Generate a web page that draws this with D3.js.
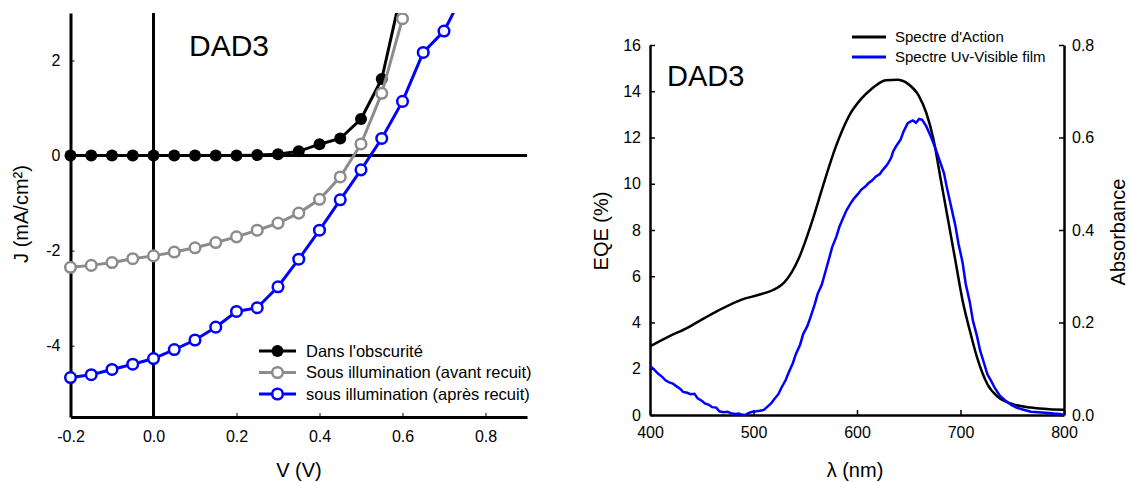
<!DOCTYPE html>
<html><head><meta charset="utf-8">
<script src="https://cdn.jsdelivr.net/npm/d3@7"></script>
<style>body{margin:0;background:#fff}svg{display:block;font-family:"Liberation Sans",Arial,sans-serif}</style>
</head><body><svg id="c" width="1131" height="482"></svg>
<script>
// ---------- Left panel data: J-V curves ----------
const voltage = [-0.2,-0.15,-0.1,-0.05,0.0,0.05,0.1,0.15,0.2,0.25,0.3,0.35,0.4,0.45,0.5,0.55,0.6,0.65,0.7,0.75];
const jDark   = [0,0,0,0,0,0,0,0,0,0.01,0.03,0.09,0.24,0.36,0.77,1.61,3.55];
const jBefore = [-2.35,-2.31,-2.25,-2.17,-2.11,-2.03,-1.94,-1.83,-1.71,-1.57,-1.42,-1.21,-0.92,-0.45,0.245,1.31,2.88];
const jAfter  = [-4.67,-4.61,-4.50,-4.39,-4.27,-4.08,-3.88,-3.61,-3.28,-3.20,-2.76,-2.18,-1.57,-0.93,-0.30,0.36,1.14,2.17,2.62,3.47];
const jvLabels = ["Dans l'obscurité","Sous illumination (avant recuit)","sous illumination (après recuit)"];
const xTicksJV = [-0.2,0.0,0.2,0.4,0.6,0.8];
const yTicksJV = [-4,-2,0,2];

// ---------- Right panel data: spectra ----------
const eqeWl  = [400,418,436,453,471,488,506,523,530,537,544,551,558,565,572,579,586,593,604,614,628,639,649,660,667,674,681,688,695,702,709,716,726,737,751,768,786,800];
const eqeVal = [2.97,3.39,3.77,4.2,4.63,4.98,5.21,5.5,5.75,6.18,6.8,7.63,8.57,9.59,10.6,11.54,12.34,12.99,13.67,14.1,14.48,14.5,14.33,13.78,13.06,11.9,10.16,8.43,6.69,4.95,3.65,2.49,1.33,0.75,0.46,0.32,0.25,0.23];
const absWl  = [400,404,408,412,415,418,422,425,429,432,436,439,443,446,450,453,457,460,464,467,471,475,478,482,486,488,492,495,499,503,506,510,513,517,520,524,527,531,534,538,541,545,548,552,555,559,562,566,569,573,576,580,583,587,590,594,597,601,604,608,611,615,618,622,625,628,630,633,635,638,642,645,649,652,654,657,660,663,667,671,675,679,684,687,691,695,698,702,705,709,712,716,719,723,726,730,733,738,744,749,754,760,768,775,782,790,796,800];
const absVal = [0.106,0.098,0.089,0.082,0.075,0.071,0.068,0.063,0.057,0.050,0.048,0.045,0.046,0.036,0.031,0.025,0.022,0.017,0.016,0.008,0.006,0.007,0.004,0.002,0.003,0.001,0.0,0.004,0.007,0.008,0.009,0.011,0.017,0.025,0.034,0.045,0.059,0.075,0.092,0.112,0.132,0.152,0.175,0.192,0.211,0.238,0.262,0.282,0.306,0.338,0.363,0.385,0.407,0.428,0.443,0.458,0.468,0.478,0.487,0.494,0.501,0.508,0.515,0.521,0.530,0.538,0.544,0.556,0.570,0.582,0.595,0.613,0.631,0.635,0.637,0.632,0.640,0.638,0.624,0.604,0.581,0.556,0.523,0.490,0.450,0.410,0.371,0.330,0.284,0.244,0.204,0.170,0.139,0.110,0.088,0.072,0.059,0.042,0.030,0.022,0.016,0.012,0.007,0.006,0.005,0.003,0.002,0.0];
const specLabels = ["Spectre d'Action","Spectre Uv-Visible film"];
const xTicksSp = [400,500,600,700,800];
const yTicksEqe = [0,2,4,6,8,10,12,14,16];
const yTicksAbs = [0,0.2,0.4,0.6,0.8];

const svg = d3.select("#c");
const FONT = '"Liberation Sans",Arial,sans-serif';
const hy = f => d => f(d).replace("\u2212","-");

// =============== LEFT PANEL ===============
const xL = d3.scaleLinear().domain([-0.2,0.9]).range([70.5,527]);
const yL = d3.scaleLinear().domain([-5.5,3]).range([417,13]);
const gL = svg.append("g");

gL.append("defs").append("clipPath").attr("id","clipL")
  .append("rect").attr("x",xL(-0.2)-8).attr("y",yL(3)).attr("width",xL(0.9)-xL(-0.2)+10).attr("height",yL(-5.5)-yL(3));

// axes
const axB = gL.append("g").attr("transform",`translate(0,${yL(-5.5)})`)
  .call(d3.axisBottom(xL).tickValues(xTicksJV).tickFormat(hy(d3.format(".1f"))).tickSizeInner(-4).tickSizeOuter(0).tickPadding(14));
axB.select(".domain").attr("stroke-width",3);
axB.selectAll("text").attr("font-size",16).attr("font-family",FONT).attr("fill","#000");
axB.selectAll(".tick line").attr("stroke-width",1);
const axLft = gL.append("g").attr("transform",`translate(${xL(-0.2)},0)`)
  .call(d3.axisLeft(yL).tickValues(yTicksJV).tickFormat(hy(d3.format("d"))).tickSizeInner(-4).tickSizeOuter(0).tickPadding(10));
axLft.select(".domain").attr("stroke-width",3);
axLft.selectAll("text").attr("font-size",16).attr("font-family",FONT).attr("fill","#000");
axLft.selectAll(".tick line").attr("stroke-width",1);

// zero lines
gL.append("line").attr("x1",xL(-0.2)).attr("x2",xL(0.9)).attr("y1",yL(0)).attr("y2",yL(0)).attr("stroke","#000").attr("stroke-width",3);
gL.append("line").attr("x1",xL(0)).attr("x2",xL(0)).attr("y1",yL(3)).attr("y2",yL(-5.5)).attr("stroke","#000").attr("stroke-width",3);

const seriesJV = [
  {vals:jDark, color:"#000", fill:"#000"},
  {vals:jBefore, color:"#8c8c8c", fill:"#fff"},
  {vals:jAfter, color:"#0000ff", fill:"#fff"}
];
const lineJV = d3.line().x(d=>xL(d[0])).y(d=>yL(d[1]));
const plotL = gL.append("g").attr("clip-path","url(#clipL)");
seriesJV.forEach(s=>{
  const pts = s.vals.map((v,i)=>[voltage[i],v]);
  plotL.append("path").attr("d",lineJV(pts)).attr("fill","none").attr("stroke",s.color).attr("stroke-width",3);
  plotL.selectAll(null).data(pts.filter(p=>p[1]<=3.05)).enter().append("circle")
    .attr("cx",d=>xL(d[0])).attr("cy",d=>yL(d[1])).attr("r",s.fill==="#fff"?5.3:6)
    .attr("fill",s.fill).attr("stroke",s.color).attr("stroke-width",s.fill==="#fff"?2.5:0);
});

// legend
seriesJV.forEach((s,i)=>{
  const y = 351 + i*21.5;
  gL.append("line").attr("x1",259).attr("x2",296).attr("y1",y).attr("y2",y).attr("stroke",s.color).attr("stroke-width",3);
  gL.append("circle").attr("cx",277.5).attr("cy",y).attr("r",s.fill==="#fff"?5.3:6).attr("fill",s.fill)
    .attr("stroke",s.color).attr("stroke-width",s.fill==="#fff"?2.5:0);
  gL.append("text").attr("x",306).attr("y",y+5.5).attr("font-size",16.5).attr("font-family",FONT).text(jvLabels[i]);
});

gL.append("text").attr("x",189).attr("y",56).attr("font-size",30).attr("font-family",FONT).text("DAD3");
gL.append("text").attr("x",299).attr("y",477).attr("text-anchor","middle").attr("font-size",20).attr("font-family",FONT).text("V (V)");
gL.append("text").attr("transform","translate(28,214) rotate(-90)").attr("text-anchor","middle").attr("font-size",20).attr("font-family",FONT).text("J (mA/cm²)");

// =============== RIGHT PANEL ===============
const xR = d3.scaleLinear().domain([400,800]).range([650,1064]);
const yR = d3.scaleLinear().domain([0,16]).range([415,45]);
const yA = d3.scaleLinear().domain([0,0.8]).range([415,45]);
const gR = svg.append("g");

const rb = gR.append("g").attr("transform",`translate(0,${yR(0)})`)
  .call(d3.axisBottom(xR).tickValues(xTicksSp).tickSizeInner(-5).tickSizeOuter(0).tickPadding(12));
const rl = gR.append("g").attr("transform",`translate(${xR(400)},0)`)
  .call(d3.axisLeft(yR).tickValues(yTicksEqe).tickSizeInner(-5).tickSizeOuter(0).tickPadding(9));
const rr = gR.append("g").attr("transform",`translate(${xR(800)},0)`)
  .call(d3.axisRight(yA).tickValues(yTicksAbs).tickFormat(d3.format(".1f")).tickSizeInner(-5).tickSizeOuter(0).tickPadding(8));
[rb,rl,rr].forEach(a=>{
  a.select(".domain").attr("stroke-width",2.5);
  a.selectAll(".tick line").attr("stroke-width",1.5);
  a.selectAll("text").attr("font-size",16).attr("font-family",FONT).attr("fill","#000");
});

const lineE = d3.line().x((d,i)=>xR(eqeWl[i])).y(d=>yR(d)).curve(d3.curveMonotoneX);
gR.append("path").attr("d",lineE(eqeVal)).attr("fill","none").attr("stroke","#000").attr("stroke-width",2.5);
const lineA = d3.line().x((d,i)=>xR(absWl[i])).y(d=>yA(d));
gR.append("path").attr("d",lineA(absVal)).attr("fill","none").attr("stroke","#0000ff").attr("stroke-width",2.5);

// legend
["#000","#0000ff"].forEach((c,i)=>{
  const y = 37 + i*20;
  gR.append("line").attr("x1",852).attr("x2",886).attr("y1",y).attr("y2",y).attr("stroke",c).attr("stroke-width",3);
  gR.append("text").attr("x",895).attr("y",y+5).attr("font-size",15).attr("font-family",FONT).text(specLabels[i]);
});

gR.append("text").attr("x",667).attr("y",86).attr("font-size",29).attr("font-family",FONT).text("DAD3");
gR.append("text").attr("x",855).attr("y",477).attr("text-anchor","middle").attr("font-size",20).attr("font-family",FONT).text("λ (nm)");
gR.append("text").attr("transform","translate(608,231) rotate(-90)").attr("text-anchor","middle").attr("font-size",20).attr("font-family",FONT).text("EQE (%)");
gR.append("text").attr("transform","translate(1125,232) rotate(-90)").attr("text-anchor","middle").attr("font-size",20).attr("font-family",FONT).text("Absorbance");
</script></body></html>
